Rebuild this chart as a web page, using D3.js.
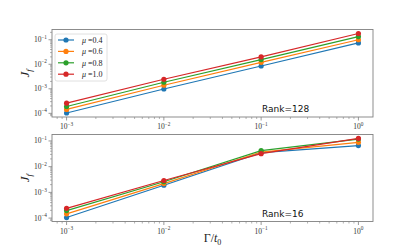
<!DOCTYPE html>
<html>
<head>
<meta charset="utf-8">
<script src="https://cdn.jsdelivr.net/npm/d3@7"></script>
<style>
  body { margin: 0; background: #fff; }
  svg { display: block; }
</style>
</head>
<body>
<svg id="chart" width="415" height="249"></svg>
<script>
"use strict";

// x values (Gamma / t0)
var gammas = [1e-3, 1e-2, 1e-1, 1e0];
var mus = ["0.4", "0.6", "0.8", "1.0"];
var colors = ["#1f77b4", "#ff7f0e", "#2ca02c", "#d62728"];

// Rank = 128 panel, one row per mu
var rank128 = [
  [1.03e-4, 0.98e-3, 0.0085, 0.074],
  [1.45e-4, 1.4e-3, 0.012, 0.10],
  [1.9e-4, 1.85e-3, 0.0155, 0.135],
  [2.6e-4, 2.45e-3, 0.020, 0.18]
];

// Rank = 16 panel
var rank16 = [
  [1.05e-4, 1.9e-3, 0.035, 0.066],
  [1.46e-4, 2.2e-3, 0.037, 0.088],
  [1.96e-4, 2.6e-3, 0.042, 0.118],
  [2.4e-4, 2.9e-3, 0.032, 0.125]
];

var panels = [
  {label: "Rank=128", data: rank128, top: 29.5, bottom: 117},
  {label: "Rank=16", data: rank16, top: 134.5, bottom: 221.5}
];

var yTicks = [1e-4, 1e-3, 1e-2, 1e-1];
var xTicks = [1e-3, 1e-2, 1e-1, 1e0];

var left = 52, right = 373;
var axisColor = "#808080";
var svg = d3.select("#chart");

// x domain with matplotlib-ish 5% log margin
var lx = d3.extent(gammas, function(d) { return Math.log10(d); });
var px = (lx[1] - lx[0]) * 0.05;
var x = d3.scaleLog()
  .domain([Math.pow(10, lx[0] - px), Math.pow(10, lx[1] + px)])
  .range([left, right]);

function expLabel(sel, v, fs) {
  var e = Math.round(Math.log10(v));
  sel.append("tspan").text("10");
  sel.append("tspan")
    .attr("dy", -fs * 0.45)
    .style("font-size", (fs * 0.7) + "px")
    .text(e < 0 ? "\u2212" + (-e) : e);
}

function minorTicks(scale) {
  var d = scale.domain(), out = [];
  var lo = Math.floor(Math.log10(d[0])), hi = Math.ceil(Math.log10(d[1]));
  for (var p = lo; p <= hi; p++) {
    for (var m = 2; m <= 9; m++) {
      var v = m * Math.pow(10, p);
      if (v >= d[0] && v <= d[1]) out.push(v);
    }
  }
  return out;
}

panels.forEach(function(panel) {
  var all = d3.merge(panel.data);
  var ly = d3.extent(all, function(d) { return Math.log10(d); });
  var py = (ly[1] - ly[0]) * 0.05;
  var y = d3.scaleLog()
    .domain([Math.pow(10, ly[0] - py), Math.pow(10, ly[1] + py)])
    .range([panel.bottom, panel.top]);

  var g = svg.append("g");

  // minor ticks
  g.selectAll(".xminor").data(minorTicks(x)).enter().append("line")
    .attr("x1", function(d) { return x(d); }).attr("x2", function(d) { return x(d); })
    .attr("y1", panel.bottom).attr("y2", panel.bottom + 2)
    .attr("stroke", axisColor).attr("stroke-width", 0.6);
  g.selectAll(".yminor").data(minorTicks(y)).enter().append("line")
    .attr("x1", left - 2).attr("x2", left)
    .attr("y1", function(d) { return y(d); }).attr("y2", function(d) { return y(d); })
    .attr("stroke", axisColor).attr("stroke-width", 0.6);

  // major ticks
  g.selectAll(".xmajor").data(xTicks).enter().append("line")
    .attr("x1", function(d) { return x(d); }).attr("x2", function(d) { return x(d); })
    .attr("y1", panel.bottom).attr("y2", panel.bottom + 3.5)
    .attr("stroke", axisColor).attr("stroke-width", 0.8);
  g.selectAll(".ymajor").data(yTicks).enter().append("line")
    .attr("x1", left - 3.5).attr("x2", left)
    .attr("y1", function(d) { return y(d); }).attr("y2", function(d) { return y(d); })
    .attr("stroke", axisColor).attr("stroke-width", 0.8);

  // tick labels
  g.selectAll(".xlab").data(xTicks).enter().append("text")
    .attr("x", function(d) { return x(d); })
    .attr("y", panel.bottom + 12)
    .attr("text-anchor", "middle")
    .style("font-family", "'Liberation Serif', serif")
    .style("font-size", "7.5px")
    .attr("fill", "#333")
    .each(function(d) { expLabel(d3.select(this), d, 7.5); });
  g.selectAll(".ylab").data(yTicks).enter().append("text")
    .attr("x", left - 5)
    .attr("y", function(d) { return y(d) + 2.5; })
    .attr("text-anchor", "end")
    .style("font-family", "'Liberation Serif', serif")
    .style("font-size", "7.5px")
    .attr("fill", "#333")
    .each(function(d) { expLabel(d3.select(this), d, 7.5); });

  // y label J_f
  var yl = g.append("text")
    .attr("transform", "translate(29," + ((panel.top + panel.bottom) / 2) + ") rotate(-90)")
    .attr("text-anchor", "middle")
    .style("font-family", "'Liberation Serif', serif")
    .style("font-style", "italic")
    .style("font-size", "13px")
    .attr("fill", "#222");
  yl.append("tspan").text("J");
  yl.append("tspan").attr("dy", 3).style("font-size", "9px").text("f");

  // lines
  var line = d3.line()
    .x(function(d, i) { return x(gammas[i]); })
    .y(function(d) { return y(d); });

  panel.data.forEach(function(series, k) {
    g.append("path")
      .attr("d", line(series))
      .attr("fill", "none")
      .attr("stroke", colors[k])
      .attr("stroke-width", 1.2);
    g.selectAll(".pt" + k).data(series).enter().append("circle")
      .attr("cx", function(d, i) { return x(gammas[i]); })
      .attr("cy", function(d) { return y(d); })
      .attr("r", 2.6)
      .attr("fill", colors[k]);
  });

  // frame
  g.append("rect")
    .attr("x", left).attr("y", panel.top)
    .attr("width", right - left).attr("height", panel.bottom - panel.top)
    .attr("fill", "none")
    .attr("stroke", axisColor)
    .attr("stroke-width", 0.9);

  g.append("text")
    .attr("x", 262).attr("y", panel.bottom - 5)
    .style("font-family", "'DejaVu Sans', sans-serif")
    .style("font-size", "9px")
    .attr("fill", "#111")
    .text(panel.label);
});

// legend in the top panel
var legend = svg.append("g").attr("transform", "translate(55,34)");
legend.append("rect")
  .attr("width", 52).attr("height", 47)
  .attr("rx", 2)
  .attr("fill", "#fff").attr("fill-opacity", 0.8)
  .attr("stroke", "#d8d8d8").attr("stroke-width", 0.8);
var items = legend.selectAll(".item").data(mus).enter().append("g")
  .attr("transform", function(d, i) { return "translate(0," + (6 + i * 11.4) + ")"; });
items.append("line")
  .attr("x1", 3).attr("x2", 19)
  .attr("stroke", function(d, i) { return colors[i]; })
  .attr("stroke-width", 1.2);
items.append("circle")
  .attr("cx", 11).attr("r", 2.6)
  .attr("fill", function(d, i) { return colors[i]; });
items.append("text")
  .attr("x", 27).attr("y", 2.8)
  .style("font-family", "'Liberation Serif', serif")
  .style("font-size", "8px")
  .attr("fill", "#222")
  .each(function(d) {
    var t = d3.select(this);
    t.append("tspan").style("font-style", "italic").text("\u03bc");
    t.append("tspan").text(" =" + d);
  });

// x label
var xl = svg.append("text")
  .attr("x", (left + right) / 2).attr("y", 242)
  .attr("text-anchor", "middle")
  .style("font-family", "'Liberation Serif', serif")
  .style("font-size", "12px")
  .attr("fill", "#222");
xl.append("tspan").text("\u0393/");
xl.append("tspan").style("font-style", "italic").text("t");
xl.append("tspan").attr("dy", 2.5).style("font-size", "8px").text("0");
</script>
</body>
</html>
